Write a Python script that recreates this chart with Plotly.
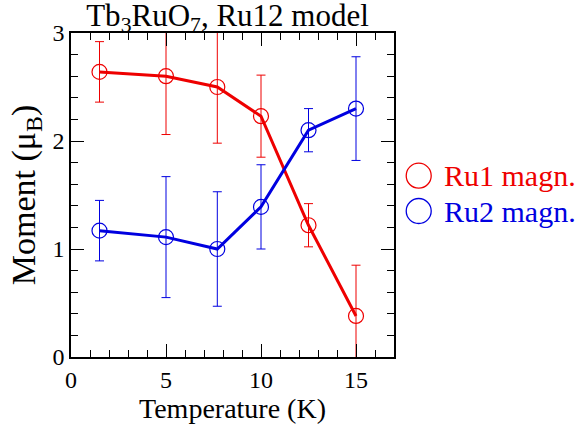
import plotly.graph_objects as go

# Data
temperature = [1.5, 5.0, 7.7, 10.0, 12.5, 15.0]
ru1_moment = [2.64, 2.60, 2.50, 2.23, 1.22, 0.38]
ru1_err_plus = [0.28, 0.54, 0.52, 0.38, 0.20, 0.47]
ru1_err_minus = [0.28, 0.54, 0.52, 0.38, 0.20, 0.47]
ru2_moment = [1.17, 1.11, 1.00, 1.39, 2.10, 2.30]
ru2_err_plus = [0.28, 0.56, 0.53, 0.39, 0.20, 0.48]
ru2_err_minus = [0.28, 0.56, 0.53, 0.39, 0.20, 0.48]

series_names = ["Ru1 magn.", "Ru2 magn."]
series_colors = ["#ee0000", "#0000e0"]

FONT = "Liberation Serif, Times New Roman, serif"

fig = go.Figure()

for ys, ep, em, col in [
    (ru1_moment, ru1_err_plus, ru1_err_minus, series_colors[0]),
    (ru2_moment, ru2_err_plus, ru2_err_minus, series_colors[1]),
]:
    fig.add_trace(go.Scatter(
        x=temperature, y=ys, mode="lines+markers",
        line=dict(color=col, width=3),
        marker=dict(symbol="circle-open", size=15, color=col, line=dict(width=1.2, color=col)),
        error_y=dict(type="data", symmetric=False, array=ep, arrayminus=em,
                     color=col, thickness=1, width=4.5),
        showlegend=False, cliponaxis=True,
    ))

# Legend drawn manually (large circles + coloured labels), in paper coords
legend_y = [0.5596, 0.4506]
for name, col, ly in zip(series_names, series_colors, legend_y):
    fig.add_shape(type="circle", xref="paper", yref="paper",
                  xsizemode="pixel", ysizemode="pixel",
                  xanchor=1.0765, yanchor=ly, x0=-12.5, x1=12.5, y0=-12.5, y1=12.5,
                  line=dict(color=col, width=1.3))
    fig.add_annotation(text=name, xref="paper", yref="paper", x=1.1486, y=ly,
                       xanchor="left", yanchor="middle", showarrow=False,
                       font=dict(family=FONT, size=30, color=col))

axis_common = dict(
    showline=True, linecolor="black", linewidth=1.5, mirror="ticks",
    ticks="inside", ticklen=13, tickwidth=1.2, tickcolor="black",
    showgrid=False, zeroline=False,
    tickfont=dict(family=FONT, size=24, color="black"),
)

fig.update_xaxes(
    range=[0, 17], tickvals=[0, 5, 10, 15],
    minor=dict(dtick=1, ticks="inside", ticklen=7, tickcolor="black", tickwidth=1.2),
    title=dict(text="Temperature (K)", font=dict(family=FONT, size=28, color="black"), standoff=0),
    **axis_common,
)
fig.update_yaxes(
    range=[0, 3], tickvals=[0, 1, 2, 3],
    minor=dict(dtick=0.2, ticks="inside", ticklen=7, tickcolor="black", tickwidth=1.2),
    title=dict(text="Moment (μ<sub>B</sub>)", font=dict(family=FONT, size=34, color="black"), standoff=7),
    **axis_common,
)

fig.update_layout(
    width=576, height=425,
    margin=dict(l=71, r=182, t=33, b=68),
    plot_bgcolor="white", paper_bgcolor="white",
    showlegend=False,
    title=dict(text="Tb<sub>3</sub>RuO<sub>7</sub>, Ru12 model",
               font=dict(family=FONT, size=31, color="black"),
               x=227.5 / 576, xanchor="center", y=0.99, yanchor="top"),
)

fig.write_html("out.html")
